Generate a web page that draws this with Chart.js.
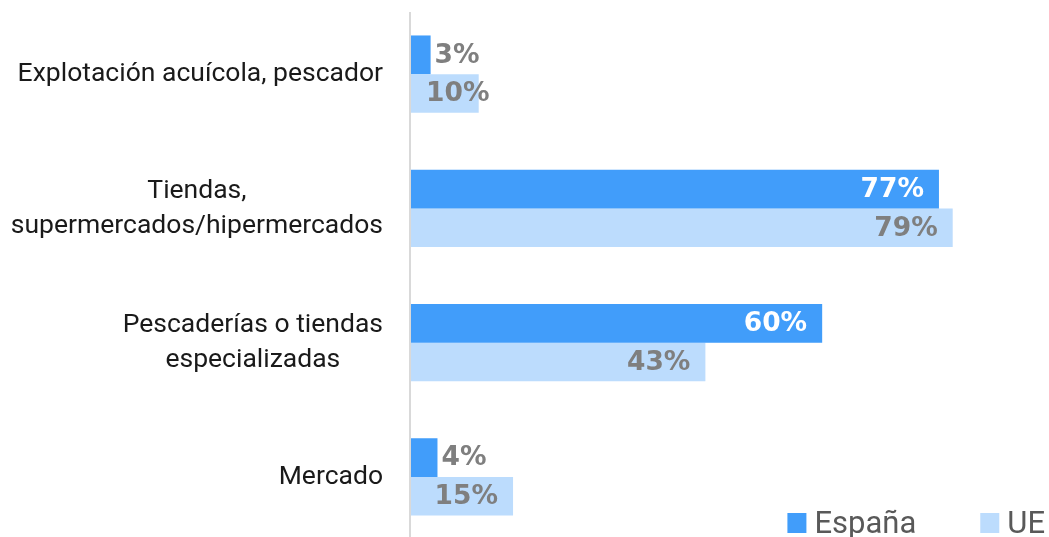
<!DOCTYPE html>
<html lang="es">
<head>
<meta charset="utf-8">
<title>Lugar de compra</title>
<script src="https://cdn.jsdelivr.net/npm/chart.js@4.4.1/dist/chart.umd.min.js"></script>
<style>
  html, body { margin: 0; padding: 0; background: #fff; overflow: hidden; }
  #wrap { position: relative; width: 1049px; height: 560px; }
</style>
</head>
<body>
<div id="wrap"><canvas id="chart"></canvas></div>
<script>
// datos
const categorias = [
    ['Explotación acuícola, pescador'],
    ['Tiendas,', 'supermercados/hipermercados'],
    ['Pescaderías o tiendas', 'especializadas'],
    ['Mercado']
];
const espana = [3, 77, 60, 4];
const ue = [10, 79, 43, 15];
const series = ['España', 'UE'];

const COLOR_ES = '#419dfa';
const COLOR_UE = '#bcdcfd';
const GRIS = '#7f7f7f';

// etiquetas de categoria: bloque alineado a la derecha, lineas centradas
const categoryLabels = {
    id: 'categoryLabels',
    afterDraw(chart) {
        const { ctx } = chart;
        const yScale = chart.scales.y;
        const right = chart.chartArea.left - 27;
        const lineH = 35;
        ctx.save();
        ctx.font = '26.5px Roboto';
        ctx.fillStyle = '#1a1a1a';
        ctx.textAlign = 'center';
        ctx.textBaseline = 'middle';
        categorias.forEach((lines, i) => {
            const yc = yScale.getPixelForTick(i);
            const w = Math.max(...lines.map(l => ctx.measureText(l).width));
            const cx = right - w / 2;
            const y0 = yc - (lines.length - 1) * lineH / 2;
            lines.forEach((l, j) => ctx.fillText(l, cx, y0 + j * lineH));
        });
        ctx.restore();
    }
};

// valores sobre las barras
const valueLabels = {
    id: 'valueLabels',
    afterDatasetsDraw(chart) {
        const { ctx } = chart;
        ctx.save();
        ctx.font = 'bold 26.5px "DejaVu Sans"';
        ctx.textBaseline = 'middle';
        chart.data.datasets.forEach((ds, di) => {
            const meta = chart.getDatasetMeta(di);
            meta.data.forEach((bar, i) => {
                const txt = ds.data[i] + '%';
                const w = ctx.measureText(txt).width;
                const len = bar.x - bar.base;
                let x, align, color;
                if (w + 30 <= len) {
                    x = bar.x - 15; align = 'right';
                    color = di === 0 ? '#ffffff' : GRIS;
                } else if (di === 0) {
                    x = bar.x + 4; align = 'left'; color = GRIS;
                } else {
                    x = bar.base + 16; align = 'left'; color = GRIS;
                }
                ctx.textAlign = align;
                ctx.fillStyle = color;
                ctx.fillText(txt, x, bar.y + 1);
            });
        });
        ctx.restore();
    }
};

// leyenda abajo a la derecha
const legendBox = {
    id: 'legendBox',
    afterDraw(chart) {
        const { ctx } = chart;
        ctx.save();
        ctx.font = '31px Roboto';
        ctx.textBaseline = 'alphabetic';
        ctx.textAlign = 'left';
        let x = 1045;
        const items = chart.data.datasets.slice().reverse();
        items.forEach(ds => {
            const w = ctx.measureText(ds.label).width;
            x -= w;
            ctx.fillStyle = '#595959';
            ctx.fillText(ds.label, x, 533);
            x -= 8 + 19;
            ctx.fillStyle = ds.backgroundColor;
            ctx.fillRect(x, 513, 19, 20);
            x -= 64;
        });
        ctx.restore();
    }
};

// eje vertical (empieza un poco por debajo del borde superior)
const axisLine = {
    id: 'axisLine',
    afterDatasetsDraw(chart) {
        const { ctx, chartArea } = chart;
        ctx.save();
        ctx.strokeStyle = '#d9d9d9';
        ctx.lineWidth = 2;
        ctx.beginPath();
        ctx.moveTo(chartArea.left, chartArea.top + 5);
        ctx.lineTo(chartArea.left, chartArea.bottom);
        ctx.stroke();
        ctx.restore();
    }
};

new Chart(document.getElementById('chart').getContext('2d'), {
    type: 'bar',
    data: {
        labels: categorias.map(l => l.join(' ')),
        datasets: [
            { label: series[0], data: espana, backgroundColor: COLOR_ES },
            { label: series[1], data: ue, backgroundColor: COLOR_UE }
        ]
    },
    options: {
        indexAxis: 'y',
        responsive: true,
        maintainAspectRatio: false,
        animation: false,
        datasets: {
            bar: { categoryPercentage: 0.576, barPercentage: 1.0 }
        },
        layout: { padding: { left: 0, right: 7, top: 7, bottom: 16 } },
        plugins: {
            legend: { display: false },
            tooltip: { enabled: false }
        },
        scales: {
            x: {
                display: false,
                min: 0,
                max: 92
            },
            y: {
                grid: { display: false, drawTicks: false },
                border: { display: false },
                ticks: { display: false },
                afterFit(scale) { scale.width = 410; }
            }
        }
    },
    plugins: [axisLine, categoryLabels, valueLabels, legendBox]
});
</script>
</body>
</html>
